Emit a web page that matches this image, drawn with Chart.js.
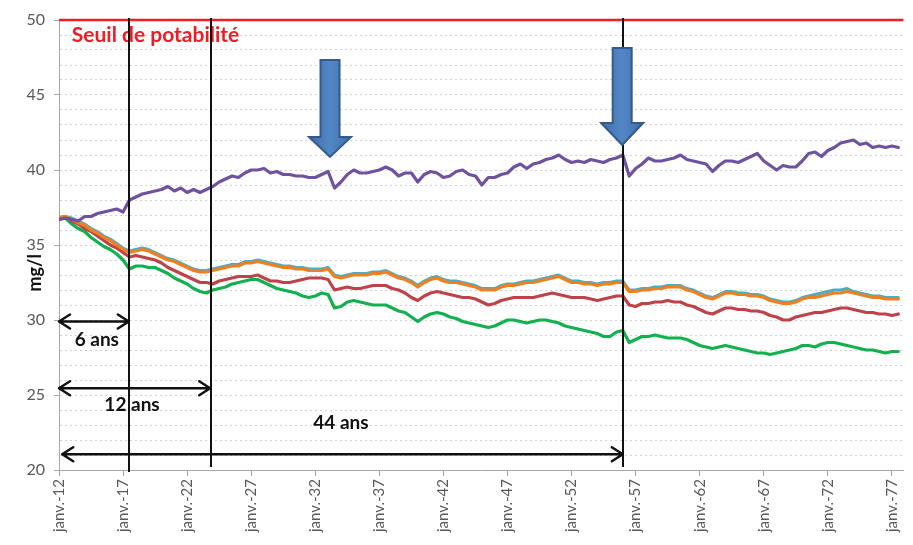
<!DOCTYPE html>
<html>
<head>
<meta charset="utf-8">
<title>Nitrates – projections</title>
<script src="https://cdn.jsdelivr.net/npm/chart.js@4/dist/chart.umd.min.js"></script>
<style>
  html, body { margin: 0; padding: 0; background: #ffffff; }
  #wrap { width: 913px; height: 545px; }
</style>
</head>
<body>
<div id="wrap"><canvas id="chart" width="913" height="545"></canvas></div>
<script>
// Half-yearly steps (janvier / juillet), expressed in decimal years.
const periods = Array.from({ length: 132 }, (_, i) => 2012 + i / 2);

// Axis ticks
const tickYears = [2012, 2017, 2022, 2027, 2032, 2037, 2042, 2047, 2052, 2057, 2062, 2067, 2072, 2077];
const tickLabels = ['janv.-12', 'janv.-17', 'janv.-22', 'janv.-27', 'janv.-32', 'janv.-37', 'janv.-42',
                    'janv.-47', 'janv.-52', 'janv.-57', 'janv.-62', 'janv.-67', 'janv.-72', 'janv.-77'];

// Concentrations (mg/l)
const purpleSeries = [
  36.7,36.8,36.7,36.6,36.9,36.9,37.1,37.2,37.3,37.4,
  37.2,38.0,38.2,38.4,38.5,38.6,38.7,38.9,38.6,38.8,
  38.5,38.7,38.5,38.7,38.9,39.2,39.4,39.6,39.5,39.8,
  40.0,40.0,40.1,39.8,39.9,39.7,39.7,39.6,39.6,39.5,
  39.5,39.7,39.9,38.8,39.2,39.7,40.0,39.8,39.8,39.9,
  40.0,40.2,40.0,39.6,39.8,39.8,39.2,39.7,39.9,39.8,
  39.5,39.6,39.9,40.0,39.7,39.6,39.0,39.5,39.5,39.7,
  39.8,40.2,40.4,40.1,40.4,40.5,40.7,40.8,41.0,40.7,
  40.5,40.6,40.5,40.7,40.6,40.5,40.7,40.8,41.0,39.6,
  40.1,40.4,40.8,40.6,40.6,40.7,40.8,41.0,40.7,40.6,
  40.5,40.4,39.9,40.3,40.6,40.6,40.5,40.7,40.9,41.1,
  40.6,40.3,40.0,40.3,40.2,40.2,40.6,41.1,41.2,40.9,
  41.3,41.5,41.8,41.9,42.0,41.7,41.8,41.5,41.6,41.5,
  41.6,41.5
];
const orangeSeries = [
  36.8,36.9,36.7,36.5,36.3,36.0,35.8,35.5,35.3,35.0,
  34.7,34.5,34.6,34.7,34.6,34.4,34.2,34.0,33.9,33.7,
  33.5,33.3,33.2,33.2,33.3,33.4,33.5,33.6,33.6,33.8,
  33.8,33.9,33.8,33.7,33.6,33.5,33.5,33.4,33.4,33.3,
  33.3,33.3,33.4,32.9,32.8,32.9,33.0,33.0,33.0,33.1,
  33.1,33.2,33.0,32.8,32.7,32.5,32.2,32.5,32.7,32.8,
  32.6,32.5,32.5,32.4,32.3,32.2,32.0,32.0,32.0,32.2,
  32.3,32.3,32.4,32.5,32.5,32.6,32.7,32.8,32.9,32.7,
  32.5,32.5,32.4,32.4,32.3,32.4,32.4,32.5,32.5,31.9,
  31.9,32.0,32.0,32.1,32.1,32.2,32.2,32.2,32.0,31.9,
  31.7,31.5,31.4,31.6,31.8,31.8,31.7,31.7,31.6,31.6,
  31.5,31.3,31.2,31.1,31.1,31.2,31.4,31.5,31.5,31.6,
  31.7,31.8,31.8,31.9,31.8,31.7,31.6,31.5,31.5,31.4,
  31.4,31.4
];
const cyanSeries = [
  36.8,36.9,36.8,36.6,36.4,36.1,35.9,35.6,35.4,35.1,
  34.8,34.6,34.7,34.8,34.7,34.5,34.3,34.1,34.0,33.8,
  33.6,33.4,33.3,33.3,33.4,33.5,33.6,33.7,33.7,33.9,
  33.9,34.0,33.9,33.8,33.7,33.6,33.6,33.5,33.5,33.4,
  33.4,33.4,33.5,33.0,32.9,33.0,33.1,33.1,33.1,33.2,
  33.2,33.3,33.1,32.9,32.8,32.6,32.3,32.6,32.8,32.9,
  32.7,32.6,32.6,32.5,32.4,32.3,32.1,32.1,32.1,32.3,
  32.4,32.4,32.5,32.6,32.6,32.7,32.8,32.9,33.0,32.8,
  32.6,32.6,32.5,32.5,32.4,32.5,32.5,32.6,32.6,32.0,
  32.0,32.1,32.1,32.2,32.2,32.3,32.3,32.3,32.1,32.0,
  31.8,31.6,31.5,31.7,31.9,31.9,31.8,31.8,31.7,31.7,
  31.6,31.4,31.3,31.2,31.2,31.3,31.5,31.6,31.7,31.8,
  31.9,32.0,32.0,32.1,31.9,31.8,31.7,31.6,31.6,31.5,
  31.5,31.5
];
const redSeries = [
  36.8,36.9,36.6,36.4,36.1,35.9,35.6,35.3,35.0,34.8,
  34.5,34.2,34.3,34.2,34.1,34.0,33.8,33.5,33.3,33.1,
  32.9,32.7,32.5,32.5,32.4,32.6,32.7,32.8,32.9,32.9,
  32.9,33.0,32.8,32.6,32.6,32.5,32.5,32.6,32.7,32.8,
  32.8,32.8,32.7,32.0,32.1,32.2,32.1,32.1,32.2,32.3,
  32.3,32.3,32.1,32.0,31.8,31.5,31.3,31.6,31.8,31.9,
  31.8,31.7,31.6,31.5,31.5,31.4,31.2,31.0,31.1,31.3,
  31.4,31.5,31.5,31.5,31.5,31.6,31.7,31.8,31.7,31.6,
  31.5,31.5,31.5,31.4,31.3,31.4,31.5,31.6,31.6,31.0,
  30.9,31.1,31.1,31.2,31.2,31.3,31.2,31.2,31.0,30.9,
  30.7,30.5,30.4,30.6,30.8,30.8,30.7,30.7,30.6,30.6,
  30.5,30.3,30.2,30.0,30.0,30.2,30.3,30.4,30.5,30.5,
  30.6,30.7,30.8,30.8,30.7,30.6,30.5,30.5,30.4,30.4,
  30.3,30.4
];
const greenSeries = [
  36.7,36.8,36.4,36.1,35.9,35.5,35.2,34.9,34.7,34.4,
  34.0,33.4,33.6,33.6,33.5,33.5,33.3,33.1,32.8,32.6,
  32.4,32.1,31.9,31.8,32.0,32.1,32.2,32.4,32.5,32.6,
  32.7,32.7,32.5,32.3,32.1,32.0,31.9,31.8,31.6,31.5,
  31.6,31.8,31.7,30.8,30.9,31.2,31.3,31.2,31.1,31.0,
  31.0,31.0,30.8,30.6,30.5,30.2,29.9,30.2,30.4,30.5,
  30.4,30.2,30.1,29.9,29.8,29.7,29.6,29.5,29.6,29.8,
  30.0,30.0,29.9,29.8,29.9,30.0,30.0,29.9,29.8,29.6,
  29.5,29.4,29.3,29.2,29.1,28.9,28.9,29.2,29.3,28.5,
  28.7,28.9,28.9,29.0,28.9,28.8,28.8,28.8,28.7,28.5,
  28.3,28.2,28.1,28.2,28.3,28.2,28.1,28.0,27.9,27.8,
  27.8,27.7,27.8,27.9,28.0,28.1,28.3,28.3,28.2,28.4,
  28.5,28.5,28.4,28.3,28.2,28.1,28.0,28.0,27.9,27.8,
  27.9,27.9
];

// Drinking-water limit
const thresholdValue = 50;
const thresholdSpan = [2012, 2077.9];

// Annotation layout (x in years, y in mg/l)
const markerLines = [
  { year: 2017.5,  top: 50.13, bottom: 19.87 },
  { year: 2023.85, top: 50.13, bottom: 20.2 },
  { year: 2056.05, top: 50.13, bottom: 20.2 }
];
const spanArrows = [
  { from: 2012.0,  to: 2017.45, level: 29.9,  text: '6 ans',  tx: 2014.95, ty: 28.67 },
  { from: 2012.0,  to: 2023.8,  level: 25.45, text: '12 ans', tx: 2017.7,  ty: 24.33 },
  { from: 2012.25, to: 2056.0,  level: 21.05, text: '44 ans', tx: 2034.0,  ty: 23.13 }
];
const dropArrows = [
  { year: 2033.15, top: 47.33, base: 42.2,  tip: 40.87 },
  { year: 2055.95, top: 48.13, base: 43.13, tip: 41.67 }
];

Chart.defaults.font.family = "Lato, 'Open Sans', 'DejaVu Sans', sans-serif";

const toPoints = vals => vals.map((v, i) => ({ x: periods[i], y: v }));

function seriesLine(label, vals, color, width) {
  return {
    label, data: toPoints(vals), borderColor: color, backgroundColor: color,
    borderWidth: width, pointRadius: 0, tension: 0, borderJoinStyle: 'round', borderCapStyle: 'round'
  };
}

const overlay = {
  id: 'overlay',
  afterDatasetsDraw(chart) {
    const { ctx, scales: { x, y }, chartArea } = chart;
    ctx.save();

    // threshold caption
    ctx.fillStyle = '#ee1c25';
    ctx.font = "bold 21px Lato, 'Open Sans', sans-serif";
    ctx.textAlign = 'left';
    ctx.textBaseline = 'middle';
    ctx.fillText('Seuil de potabilité', x.getPixelForValue(2013.0), y.getPixelForValue(49.0));

    // vertical markers
    ctx.strokeStyle = '#111111';
    ctx.lineWidth = 2;
    markerLines.forEach(m => {
      const px = Math.round(x.getPixelForValue(m.year));
      ctx.beginPath();
      ctx.moveTo(px, y.getPixelForValue(m.top));
      ctx.lineTo(px, y.getPixelForValue(m.bottom));
      ctx.stroke();
    });

    // double-headed duration arrows
    ctx.lineWidth = 2.5;
    ctx.lineCap = 'round';
    ctx.lineJoin = 'round';
    spanArrows.forEach(a => {
      const x1 = x.getPixelForValue(a.from), x2 = x.getPixelForValue(a.to);
      const py = y.getPixelForValue(a.level);
      ctx.beginPath();
      ctx.moveTo(x1, py); ctx.lineTo(x2, py);
      ctx.moveTo(x1 + 11, py - 7); ctx.lineTo(x1, py); ctx.lineTo(x1 + 11, py + 7);
      ctx.moveTo(x2 - 11, py - 7); ctx.lineTo(x2, py); ctx.lineTo(x2 - 11, py + 7);
      ctx.stroke();
      ctx.fillStyle = '#111111';
      ctx.font = "bold 19px Lato, 'Open Sans', sans-serif";
      ctx.textAlign = 'center';
      ctx.textBaseline = 'middle';
      ctx.fillText(a.text, x.getPixelForValue(a.tx), y.getPixelForValue(a.ty));
    });

    // blue block arrows
    dropArrows.forEach(a => {
      const cx = x.getPixelForValue(a.year);
      const yt = y.getPixelForValue(a.top), yb = y.getPixelForValue(a.base), yp = y.getPixelForValue(a.tip);
      const sw = 9.5, hw = 21;
      ctx.beginPath();
      ctx.moveTo(cx - sw, yt); ctx.lineTo(cx + sw, yt); ctx.lineTo(cx + sw, yb);
      ctx.lineTo(cx + hw, yb); ctx.lineTo(cx, yp); ctx.lineTo(cx - hw, yb);
      ctx.lineTo(cx - sw, yb); ctx.closePath();
      const g = ctx.createLinearGradient(cx - hw, 0, cx + hw, 0);
      g.addColorStop(0, '#3f6fa8'); g.addColorStop(0.5, '#5287c6'); g.addColorStop(1, '#3f6fa8');
      ctx.fillStyle = g;
      ctx.fill();
      ctx.strokeStyle = '#35598a';
      ctx.lineWidth = 2;
      ctx.lineJoin = 'miter';
      ctx.stroke();
    });

    // y-axis title
    ctx.save();
    ctx.translate(chartArea.left - 23.5, y.getPixelForValue(33.15));
    ctx.rotate(-Math.PI / 2);
    ctx.fillStyle = '#111111';
    ctx.font = "bold 18px Lato, 'Open Sans', sans-serif";
    ctx.textAlign = 'center';
    ctx.textBaseline = 'middle';
    ctx.fillText('mg/l', 0, 0);
    ctx.restore();

    ctx.restore();
  }
};

new Chart(document.getElementById('chart'), {
  type: 'line',
  data: {
    datasets: [
      {
        label: 'Seuil de potabilité',
        data: thresholdSpan.map(v => ({ x: v, y: thresholdValue })),
        borderColor: '#f01e23', borderWidth: 2.5, pointRadius: 0, clip: false
      },
      seriesLine('Série 5', purpleSeries, '#6e529f', 3.2),
      seriesLine('Série 2', orangeSeries, '#f0801f', 3.2),
      seriesLine('Série 1', cyanSeries, '#4bacc6', 3),
      seriesLine('Série 3', redSeries, '#bd4249', 3.2),
      seriesLine('Série 4', greenSeries, '#12b04f', 3.2)
    ]
  },
  options: {
    responsive: false,
    animation: false,
    devicePixelRatio: 1,
    layout: { padding: { top: 20, right: 5, left: 0, bottom: 0 } },
    plugins: { legend: { display: false }, tooltip: { enabled: false } },
    scales: {
      x: {
        type: 'linear',
        min: 2012,
        max: 2077.9,
        afterBuildTicks: s => { s.ticks = tickYears.map(v => ({ value: v })); },
        afterFit: s => { s.height = 75; },
        ticks: {
          autoSkip: false, minRotation: 90, maxRotation: 90, padding: 3,
          color: '#595959', font: { size: 15 },
          callback: (v, i) => tickLabels[i]
        },
        grid: { drawOnChartArea: false, drawTicks: true, tickLength: 6, color: '#a6a6a6', tickColor: '#a6a6a6' },
        border: { display: true, color: '#a6a6a6', width: 1 }
      },
      y: {
        min: 20,
        max: 50,
        afterFit: s => { s.width = 59; },
        ticks: {
          stepSize: 1, autoSkip: false, padding: 9,
          color: '#595959', font: { size: 16 },
          callback: v => (v % 5 === 0 ? String(v) : '')
        },
        grid: {
          color: c => (c.tick && (c.tick.value === 50 || c.tick.value === 20) ? 'rgba(0,0,0,0)' : 'rgba(165,165,165,0.5)'),
          tickColor: c => (c.tick && c.tick.value % 5 === 0 ? '#a6a6a6' : 'rgba(0,0,0,0)'),
          tickLength: 5,
          tickBorderDash: [],
          lineWidth: 1
        },
        border: { display: true, color: '#a6a6a6', width: 1, dash: [2, 3] }
      }
    }
  },
  plugins: [overlay]
});
</script>
</body>
</html>
